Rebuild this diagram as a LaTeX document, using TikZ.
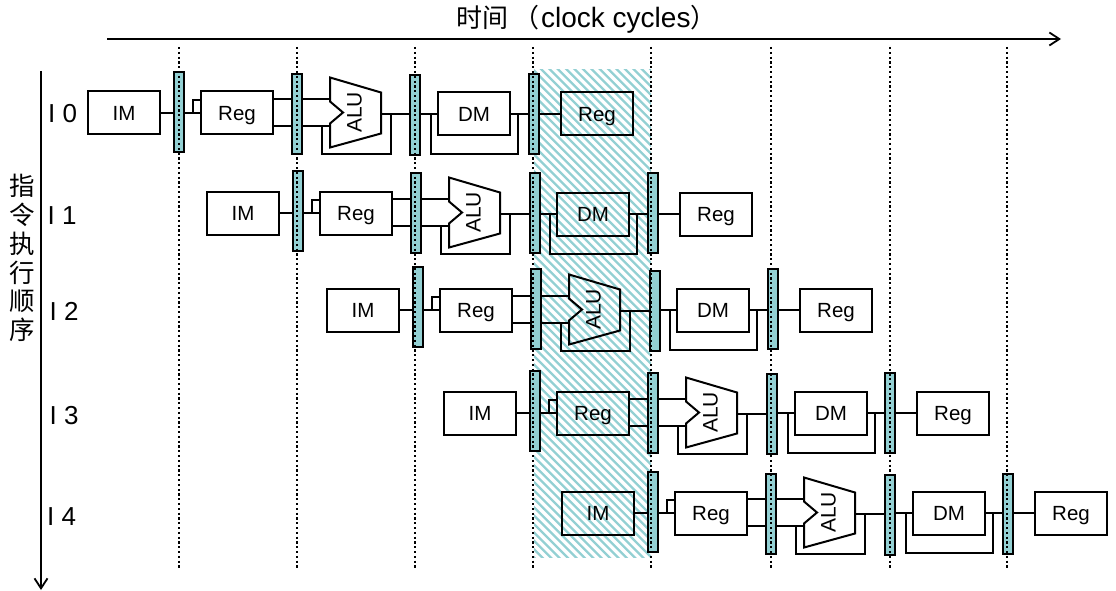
\documentclass[tikz,border=0pt]{standalone}
\usepackage{fontspec}
\usepackage{graphicx}
\setmainfont{Liberation Sans}
\newfontfamily\cjkf{Noto Sans CJK SC}
\usetikzlibrary{arrows.meta,backgrounds}
\definecolor{latchc}{HTML}{93D0D3}
\tikzset{
  unitbox/.style={draw=black,line width=2pt,rectangle,minimum width=72pt,minimum height=43pt,inner sep=0pt,outer sep=0pt,text height=14.7pt,text depth=0pt,font=\fontsize{20.5}{24}\selectfont},
  latchbox/.style={draw=black,line width=2.2pt,fill=latchc,rectangle,minimum width=10pt,minimum height=80pt,inner sep=0pt,outer sep=0pt,anchor=north west},
  alubox/.style={rectangle,minimum width=51pt,minimum height=70pt,inner sep=0pt,outer sep=0pt,anchor=north west,font=\fontsize{21}{24}\selectfont},
  wire/.style={line width=1.9pt,draw=black},
  rowlabel/.style={font=\fontsize{26}{30}\selectfont,inner sep=0pt,anchor=base west},
  timeline/.style={line width=1.8pt,-{Straight Barb[length=10pt,width=13pt,line width=1.8pt]}},
  tick/.style={line width=1.6pt,dash pattern=on 2.2pt off 2.6pt}
}
\begin{document}
\begin{tikzpicture}[x=1pt,y=-1pt]
\path[use as bounding box] (0,0) rectangle (1116,591);
\begin{scope}[on background layer]
  \begin{scope}
    \clip (534,70) rectangle (651,557);
    \foreach \s in {490,498.4,...,1130} {
      \draw[latchc,line width=2.3pt] (\s-458,64) -- (\s+40,562);
    }
  \end{scope}
\end{scope}
\foreach \n/\ym/\dyy/\xim/\xa/\ya/\xreg/\xb/\yb/\xalu/\xc/\yc/\xdm/\xd/\yd/\xr/\fim/\frg/\fal/\fdm/\fou in {
  0/113/1/88/174/72/201/292/74/330/410/75/438/529/74/561/white/white/white/white/none,
  1/213/1/207/293/171/320/411/173/449/530/173/557/648/173/680/white/white/white/none/white,
  2/310/0/327/413/267/440/531/269/569/650/271/677/768/269/800/white/white/none/white/white,
  3/413/0/444/530/371/557/648/373/686/767/374/795/885/373/917/white/none/white/white/white,
  4/513/0/562/648/472/675/766/474/804/885/475/913/1003/474/1035/none/white/white/white/white}
{
  \node[unitbox,fill=\fim,anchor=west] (im\n) at (\xim,\ym) {IM};
  \node[latchbox] (la\n) at (\xa,\ya) {};
  \node[unitbox,fill=\frg,anchor=west] (reg\n) at (\xreg,\ym) {Reg};
  \node[latchbox] (lb\n) at (\xb,\yb) {};
  \node[alubox] (alu\n) at (\xalu,\ym-35.5) {\hspace*{-2pt}\rotatebox{90}{ALU}};
  \node[latchbox] (lc\n) at (\xc,\yc) {};
  \node[unitbox,fill=\fdm,anchor=west] (dm\n) at (\xdm,\ym+\dyy) {DM};
  \node[latchbox] (ld\n) at (\xd,\yd) {};
  \node[unitbox,fill=\fou,anchor=west] (out\n) at (\xr,\ym+\dyy) {Reg};
  \begin{scope}[on background layer]
    \draw[line width=2pt,fill=\fal,line join=miter]
      (alu\n.north west) -- ([yshift=-15pt]alu\n.north east) -- ([yshift=14pt]alu\n.south east)
      -- (alu\n.south west) -- ([yshift=24pt]alu\n.south west) -- ([xshift=13pt]alu\n.west)
      -- ([yshift=-24pt]alu\n.north west) -- cycle;
  \end{scope}
  % IM to latch to Reg
  \draw[wire] (im\n.east) -- (im\n.east -| la\n.west);
  \draw[wire] (im\n.east -| la\n.east) -- (reg\n.west);
  \coordinate (br\n) at ([xshift=-8pt]reg\n.west);
  \draw[wire] (br\n) -- ([yshift=13pt]br\n) -- ([yshift=13pt]reg\n.west);
  % Reg to latch to ALU
  \coordinate (up\n) at ([yshift=14pt]reg\n.east);
  \coordinate (dn\n) at ([yshift=-13pt]reg\n.east);
  \draw[wire] (up\n) -- (up\n -| lb\n.west);
  \draw[wire] (up\n -| lb\n.east) -- (up\n -| alu\n.west);
  \draw[wire] (dn\n) -- (dn\n -| lb\n.west);
  \draw[wire] (dn\n -| lb\n.east) -- (dn\n -| alu\n.west);
  % ALU to latch, with feedback loop
  \coordinate (ao\n) at ([yshift=-1.5pt]alu\n.east);
  \draw[wire] (ao\n) -- (ao\n -| lc\n.west);
  \coordinate (af\n) at ([xshift=10pt]ao\n);
  \coordinate (ag\n) at ([xshift=-8pt]dn\n -| alu\n.west);
  \draw[wire] (af\n) -- ([yshift=-40pt]af\n) -- ([yshift=-40pt]af\n -| ag\n) -- (ag\n);
  % latch to DM to latch, with feedback loop
  \draw[wire] (dm\n.west -| lc\n.east) -- (dm\n.west);
  \draw[wire] (dm\n.east) -- (dm\n.east -| ld\n.west);
  \coordinate (dl\n) at ([xshift=-7pt]dm\n.west);
  \coordinate (dr\n) at ([xshift=8pt]dm\n.east);
  \draw[wire] (dl\n) -- ([yshift=-40pt]dl\n) -- ([yshift=-40pt]dr\n) -- (dr\n);
  % latch to Reg
  \draw[wire] (out\n.west -| ld\n.east) -- (out\n.west);
}
% dotted clock boundaries
\foreach \i/\x in {1/179,2/297,3/415,4/533,5/651,6/771,7/890,8/1007} {
  \coordinate (tt\i) at (\x,47);
  \coordinate (tb\i) at (\x,568);
  \draw[tick] (tt\i) -- (tb\i);
}
% axes
\coordinate (ha) at (107,39);
\coordinate (hb) at (1061,39);
\draw[timeline] (ha) -- (hb);
\coordinate (va) at (41,71);
\coordinate (vb) at (41,590);
\draw[timeline] (va) -- (vb);
\node[inner sep=0pt,anchor=base west,font=\fontsize{28}{32}\selectfont] (title) at (456,28) {{\fontsize{26}{30}\cjkf\selectfont 时间\hspace{5pt}（\hspace{2pt}}clock cycles{\fontsize{26}{30}\cjkf\selectfont ）}};
\node[inner sep=0pt,align=center,font=\fontsize{25.5}{28.8}\cjkf\selectfont] (vtitle) at (22,258) {指\\令\\执\\行\\顺\\序};
\node[rowlabel] (lab0) at (48,123) {I 0};
\node[rowlabel] (lab1) at (47.5,224) {I 1};
\node[rowlabel] (lab2) at (49.5,320) {I 2};
\node[rowlabel] (lab3) at (49.5,424) {I 3};
\node[rowlabel] (lab4) at (47,525) {I 4};
\end{tikzpicture}
\end{document}
